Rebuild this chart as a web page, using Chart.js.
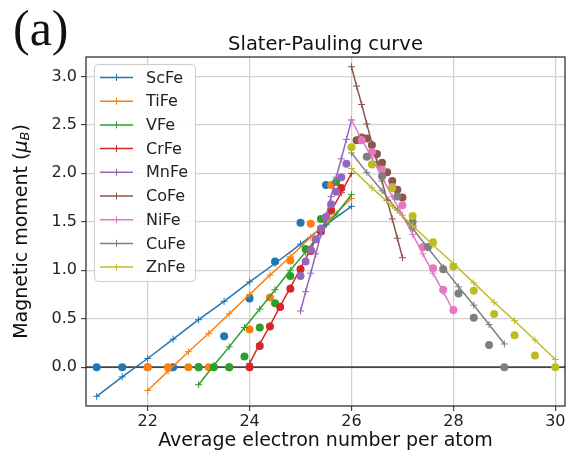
<!DOCTYPE html>
<html>
<head>
<meta charset="utf-8">
<script src="https://cdn.jsdelivr.net/npm/chart.js@4.4.0/dist/chart.umd.min.js"></script>
<style>
  html, body { margin: 0; padding: 0; background: #fff; }
  #wrap { position: relative; width: 571px; height: 456px; }
</style>
</head>
<body>
<div id="wrap"><canvas id="chart" width="571" height="456"></canvas></div>
<script>
const scFeLineX = [21, 21.5, 22, 22.5, 23, 23.5, 24, 24.5, 25, 25.5, 26];
const scFeLineY = [-0.30, -0.10, 0.09, 0.29, 0.49, 0.68, 0.88, 1.07, 1.27, 1.47, 1.66];
const scFeDotX = [21, 21.5, 22, 22.5, 23, 23.5, 24, 24.5, 25, 25.5];
const scFeDotY = [0, 0, 0, 0, 0, 0.32, 0.71, 1.09, 1.49, 1.88];

const tiFeLineX = [22, 22.4, 22.8, 23.2, 23.6, 24, 24.4, 24.8, 25.2, 25.6, 26];
const tiFeLineY = [-0.24, -0.04, 0.16, 0.35, 0.55, 0.75, 0.95, 1.14, 1.34, 1.54, 1.74];
const tiFeDotX = [22, 22.4, 22.8, 23.2, 23.6, 24, 24.4, 24.8, 25.2, 25.6];
const tiFeDotY = [0, 0, 0, 0, 0, 0.39, 0.72, 1.10, 1.48, 1.88];

const vFeLineX = [23, 23.3, 23.6, 23.9, 24.2, 24.5, 24.8, 25.1, 25.4, 25.7, 26];
const vFeLineY = [-0.18, 0.02, 0.21, 0.41, 0.60, 0.80, 1.00, 1.19, 1.39, 1.58, 1.78];
const vFeDotX = [23, 23.3, 23.6, 23.9, 24.2, 24.5, 24.8, 25.1, 25.4, 25.7];
const vFeDotY = [0, 0, 0, 0.11, 0.41, 0.66, 0.94, 1.22, 1.53, 1.91];

const crFeLineX = [24, 24.2, 24.4, 24.6, 24.8, 25, 25.2, 25.4, 25.6, 25.8, 26];
const crFeLineY = [0.04, 0.24, 0.43, 0.63, 0.82, 1.02, 1.22, 1.41, 1.61, 1.80, 2.00];
const crFeDotX = [24, 24.2, 24.4, 24.6, 24.8, 25, 25.2, 25.4, 25.6, 25.8];
const crFeDotY = [0, 0.22, 0.42, 0.62, 0.81, 1.01, 1.20, 1.40, 1.62, 1.85];

const mnFeLineX = [25, 25.1, 25.2, 25.3, 25.4, 25.5, 25.6, 25.7, 25.8, 25.9, 26];
const mnFeLineY = [0.58, 0.78, 0.97, 1.17, 1.37, 1.56, 1.76, 1.96, 2.15, 2.35, 2.55];
const mnFeDotX = [25, 25.1, 25.2, 25.3, 25.4, 25.5, 25.6, 25.7, 25.8, 25.9];
const mnFeDotY = [0.94, 1.09, 1.21, 1.32, 1.43, 1.55, 1.68, 1.81, 1.96, 2.10];

const coFeLineX = [26, 26.1, 26.2, 26.3, 26.4, 26.5, 26.6, 26.7, 26.8, 26.9, 27];
const coFeLineY = [3.10, 2.90, 2.71, 2.51, 2.31, 2.12, 1.92, 1.72, 1.53, 1.33, 1.13];
const coFeDotX = [26.1, 26.2, 26.3, 26.4, 26.5, 26.6, 26.7, 26.8, 26.9, 27];
const coFeDotY = [2.34, 2.37, 2.36, 2.29, 2.20, 2.11, 2.01, 1.92, 1.83, 1.75];

const niFeLineX = [26, 26.2, 26.4, 26.6, 26.8, 27, 27.2, 27.4, 27.6, 27.8, 28];
const niFeLineY = [2.55, 2.35, 2.16, 1.96, 1.76, 1.57, 1.37, 1.17, 0.97, 0.78, 0.58];
const niFeDotX = [26.2, 26.4, 26.6, 26.8, 27, 27.2, 27.4, 27.6, 27.8, 28];
const niFeDotY = [2.34, 2.22, 2.04, 1.86, 1.67, 1.45, 1.24, 1.02, 0.80, 0.59];

const cuFeLineX = [26, 26.3, 26.6, 26.9, 27.2, 27.5, 27.8, 28.1, 28.4, 28.7, 29];
const cuFeLineY = [2.21, 2.01, 1.82, 1.62, 1.43, 1.23, 1.03, 0.83, 0.64, 0.44, 0.24];
const cuFeDotX = [26.3, 26.6, 26.9, 27.2, 27.5, 27.8, 28.1, 28.4, 28.7, 29];
const cuFeDotY = [2.17, 1.97, 1.76, 1.50, 1.24, 1.01, 0.76, 0.51, 0.23, 0];

const znFeLineX = [26, 26.4, 26.8, 27.2, 27.6, 28, 28.4, 28.8, 29.2, 29.6, 30];
const znFeLineY = [2.05, 1.85, 1.66, 1.46, 1.26, 1.07, 0.87, 0.67, 0.48, 0.28, 0.08];
const znFeDotX = [26, 26.4, 26.8, 27.2, 27.6, 28, 28.4, 28.8, 29.2, 29.6, 30];
const znFeDotY = [2.27, 2.09, 1.85, 1.56, 1.29, 1.04, 0.79, 0.55, 0.33, 0.12, 0];

const seriesNames = ['ScFe', 'TiFe', 'VFe', 'CrFe', 'MnFe', 'CoFe', 'NiFe', 'CuFe', 'ZnFe'];
const seriesColors = ['#1f77b4', '#ff7f0e', '#2ca02c', '#d62728', '#9467bd', '#8c564b', '#e377c2', '#7f7f7f', '#bcbd22'];
const lineX = [scFeLineX, tiFeLineX, vFeLineX, crFeLineX, mnFeLineX, coFeLineX, niFeLineX, cuFeLineX, znFeLineX];
const lineY = [scFeLineY, tiFeLineY, vFeLineY, crFeLineY, mnFeLineY, coFeLineY, niFeLineY, cuFeLineY, znFeLineY];
const dotX = [scFeDotX, tiFeDotX, vFeDotX, crFeDotX, mnFeDotX, coFeDotX, niFeDotX, cuFeDotX, znFeDotX];
const dotY = [scFeDotY, tiFeDotY, vFeDotY, crFeDotY, mnFeDotY, coFeDotY, niFeDotY, cuFeDotY, znFeDotY];

const xTicks = [22, 24, 26, 28, 30];
const yTicks = [0, 0.5, 1.0, 1.5, 2.0, 2.5, 3.0];

const FONT = "'DejaVu Sans', 'Liberation Sans', sans-serif";

function toPoints(xs, ys) {
    return xs.map((x, i) => ({x: x, y: ys[i]}));
}

let datasets = [];
seriesNames.forEach((name, i) => {
    datasets.push({
        label: name,
        data: toPoints(lineX[i], lineY[i]),
        showLine: true,
        borderColor: seriesColors[i],
        borderWidth: 1.5,
        pointStyle: 'cross',
        pointRadius: 3.5,
        pointBorderColor: seriesColors[i],
        pointBorderWidth: 1,
        pointBackgroundColor: seriesColors[i],
        order: 100 - datasets.length
    });
    datasets.push({
        label: name + ' dots',
        data: toPoints(dotX[i], dotY[i]),
        showLine: false,
        pointStyle: 'circle',
        pointRadius: 4,
        pointBorderWidth: 0,
        pointBackgroundColor: seriesColors[i],
        backgroundColor: seriesColors[i],
        borderColor: seriesColors[i],
        order: 100 - datasets.length
    });
});

const decor = {
    id: 'decor',
    beforeDatasetsDraw(chart) {
        const ctx = chart.ctx, a = chart.chartArea;
        const y0 = chart.scales.y.getPixelForValue(0);
        ctx.save();
        ctx.strokeStyle = '#444';
        ctx.lineWidth = 1.8;
        ctx.beginPath();
        ctx.moveTo(a.left, y0);
        ctx.lineTo(a.right, y0);
        ctx.stroke();
        ctx.restore();
    },
    afterDraw(chart) {
        const ctx = chart.ctx, a = chart.chartArea;
        ctx.save();
        // frame
        ctx.strokeStyle = '#222';
        ctx.lineWidth = 1.2;
        ctx.strokeRect(a.left, a.top, a.right - a.left, a.bottom - a.top);

        // legend
        ctx.fillStyle = 'rgba(255,255,255,0.85)';
        ctx.strokeStyle = '#cccccc';
        ctx.lineWidth = 1;
        ctx.beginPath();
        ctx.roundRect(94.5, 64.5, 101, 217, 4);
        ctx.fill();
        ctx.stroke();
        ctx.font = '16px ' + FONT;
        ctx.textBaseline = 'middle';
        ctx.textAlign = 'left';
        seriesNames.forEach((name, i) => {
            const y = 77.5 + i * 23.7;
            ctx.strokeStyle = seriesColors[i];
            ctx.lineWidth = 1.5;
            ctx.beginPath();
            ctx.moveTo(100, y);
            ctx.lineTo(133, y);
            ctx.stroke();
            ctx.lineWidth = 1;
            ctx.beginPath();
            ctx.moveTo(116.5, y - 3.5);
            ctx.lineTo(116.5, y + 3.5);
            ctx.stroke();
            ctx.fillStyle = '#222';
            ctx.fillText(name, 146, y + 1);
        });

        // title and panel label
        ctx.fillStyle = '#111';
        ctx.textAlign = 'center';
        ctx.textBaseline = 'alphabetic';
        ctx.font = '19.5px ' + FONT;
        ctx.fillText('Slater-Pauling curve', (a.left + a.right) / 2, 50);
        ctx.textAlign = 'left';
        ctx.font = "50px 'Liberation Serif', 'DejaVu Serif', serif";
        ctx.fillText('(a)', 13, 45);

        // y axis title with subscript
        const parts = [
            {t: 'Magnetic moment (', f: '19px ' + FONT, dy: 0},
            {t: '\u03bc', f: 'italic 19px ' + FONT, dy: 0},
            {t: 'B', f: 'italic 13px ' + FONT, dy: 4},
            {t: ')', f: '19px ' + FONT, dy: 0}
        ];
        let total = 0;
        parts.forEach(p => { ctx.font = p.f; p.w = ctx.measureText(p.t).width; total += p.w; });
        ctx.translate(22, (a.top + a.bottom) / 2);
        ctx.rotate(-Math.PI / 2);
        ctx.textBaseline = 'middle';
        let x = -total / 2;
        parts.forEach(p => {
            ctx.font = p.f;
            ctx.fillText(p.t, x, p.dy);
            x += p.w;
        });
        ctx.restore();
    }
};

new Chart(document.getElementById('chart'), {
    type: 'scatter',
    data: {datasets: datasets},
    options: {
        responsive: false,
        animation: false,
        events: [],
        layout: {padding: {top: 57, right: 6, left: 0, bottom: 0}},
        plugins: {
            legend: {display: false},
            tooltip: {enabled: false},
            title: {display: false}
        },
        scales: {
            x: {
                type: 'linear',
                min: 20.79,
                max: 30.19,
                afterBuildTicks: s => { s.ticks = xTicks.map(v => ({value: v})); },
                afterFit: s => { s.height = 50; },
                grid: {color: '#d3d3d3', lineWidth: 1.3, tickLength: 5, tickColor: '#222', tickWidth: 1},
                border: {display: false},
                ticks: {
                    color: '#222',
                    padding: 1,
                    font: {family: FONT, size: 16},
                    maxRotation: 0,
                    callback: v => String(v)
                },
                title: {
                    display: true,
                    text: 'Average electron number per atom',
                    color: '#111',
                    font: {family: FONT, size: 19},
                    padding: {top: 0, bottom: 4}
                }
            },
            y: {
                type: 'linear',
                min: -0.40,
                max: 3.20,
                afterBuildTicks: s => { s.ticks = yTicks.map(v => ({value: v})); },
                afterFit: s => { s.width = 86; },
                grid: {color: '#d3d3d3', lineWidth: 1.3, tickLength: 5, tickColor: '#222', tickWidth: 1},
                border: {display: false},
                ticks: {
                    color: '#222',
                    padding: 4,
                    font: {family: FONT, size: 16},
                    callback: v => Number(v).toFixed(1)
                }
            }
        }
    },
    plugins: [decor]
});
</script>
</body>
</html>
